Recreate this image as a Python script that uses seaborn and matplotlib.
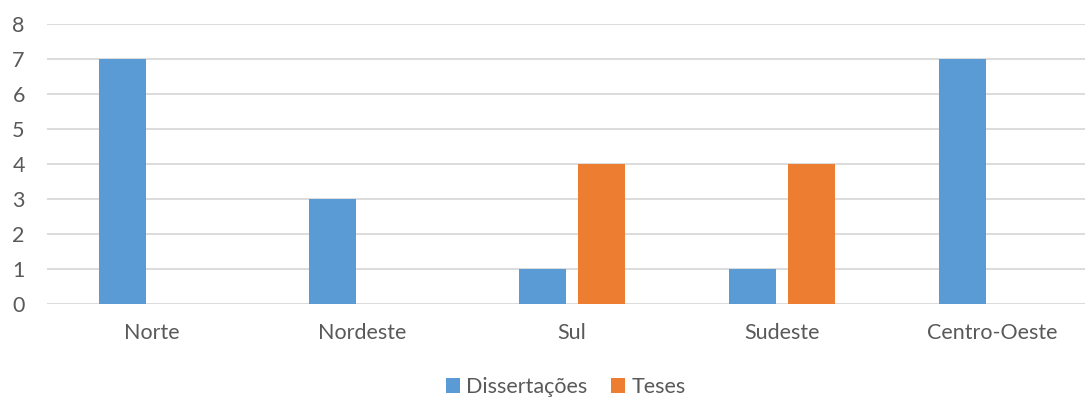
import matplotlib
matplotlib.use("Agg")
import matplotlib.pyplot as plt
import seaborn as sns
import pandas as pd
from matplotlib.patches import Patch

regioes = ["Norte", "Nordeste", "Sul", "Sudeste", "Centro-Oeste"]
dissertacoes = [7, 3, 1, 1, 7]
teses = [0, 0, 4, 4, 0]
series_nomes = ["Dissertações", "Teses"]
cores = ["#5B9BD5", "#ED7D31"]
y_ticks = [0, 1, 2, 3, 4, 5, 6, 7, 8]

df = pd.DataFrame({
    "Região": regioes * 2,
    "Tipo": [series_nomes[0]] * len(regioes) + [series_nomes[1]] * len(regioes),
    "Quantidade": dissertacoes + teses,
})

sns.set_theme(style="white")
plt.rcParams["font.family"] = ["Lato", "DejaVu Sans"]

W, H = 1085, 398
fig = plt.figure(figsize=(W / 100, H / 100), dpi=100)
ax = fig.add_axes([47 / W, (H - 304) / H, 1050 / W, 280 / H])

sns.barplot(data=df, x="Região", y="Quantidade", hue="Tipo",
            palette=cores, width=0.571, gap=0.216, saturation=1,
            linewidth=0, ax=ax, legend=False, zorder=3)

ax.set_ylim(0, 8)
ax.set_xlim(-0.5, len(regioes) - 0.5)
ax.set_yticks(y_ticks)
ax.yaxis.grid(True, color="#D9D9D9", linewidth=1.3, zorder=0)
ax.set_axisbelow(True)
for s in ax.spines.values():
    s.set_visible(False)
ax.set_xlabel("")
ax.set_ylabel("")
ax.tick_params(axis="both", length=0, labelsize=15.5, labelcolor="#595959")
ax.tick_params(axis="x", pad=14)
ax.tick_params(axis="y", pad=16)

handles = [Patch(facecolor=c, edgecolor="none") for c in cores]
fig.legend(handles, series_nomes, loc="center", bbox_to_anchor=(566 / W, (H - 387) / H),
           ncol=2, frameon=False, fontsize=15.5, handlelength=0.65, handleheight=0.65,
           handletextpad=0.3, columnspacing=1.1, labelcolor="#595959")

fig.savefig("out.png", dpi=100)
